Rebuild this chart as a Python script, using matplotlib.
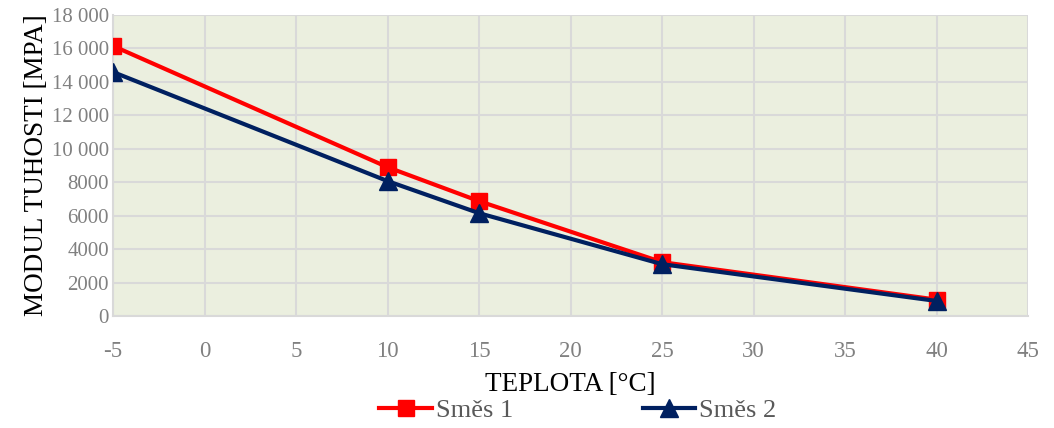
import matplotlib.pyplot as plt
from matplotlib.ticker import FuncFormatter, MultipleLocator

# data
teplota = [-5, 10, 15, 25, 40]
smes1 = [16150, 8900, 6870, 3220, 980]
smes2 = [14590, 8070, 6150, 3100, 900]
series_names = ["Směs 1", "Směs 2"]

plt.rcParams['font.family'] = ['Liberation Serif', 'DejaVu Serif']
plt.rcParams['axes.unicode_minus'] = False

fig = plt.figure(figsize=(10.54, 4.28), dpi=100)
ax = fig.add_axes([113 / 1054, 1 - 316 / 428, (1028 - 113) / 1054, (316 - 15) / 428])
ax.set_facecolor('#EBEFDF')

ax.plot(teplota, smes1, color='#FF0000', lw=3, marker='s', ms=12, label=series_names[0], zorder=3)
ax.plot(teplota, smes2, color='#002060', lw=3, marker='^', ms=12.5, label=series_names[1], zorder=4)

ax.set_xlim(-5, 45)
ax.set_ylim(0, 18000)
ax.xaxis.set_major_locator(MultipleLocator(5))
ax.yaxis.set_major_locator(MultipleLocator(2000))

def fmt(v, pos):
    v = int(round(v))
    if v >= 10000:
        return f"{v:,}".replace(",", " ")
    return str(v)

ax.yaxis.set_major_formatter(FuncFormatter(fmt))
ax.grid(True, color='#D9D9D9', lw=1.5)
ax.set_axisbelow(True)
for s in ['top', 'right']:
    ax.spines[s].set_visible(False)
for s in ['left', 'bottom']:
    ax.spines[s].set_color('#D9D9D9')
    ax.spines[s].set_linewidth(1.5)
ax.tick_params(length=0, labelcolor='#808080')
ax.tick_params(axis='y', labelsize=15, pad=3)
ax.tick_params(axis='x', labelsize=16.5, pad=18)

ax.set_xlabel("TEPLOTA [°C]", fontsize=19.5, color='black', labelpad=7)
ax.set_ylabel("MODUL TUHOSTI [MPA]", fontsize=19.5, color='black', labelpad=2)

leg = fig.legend(loc='center', bbox_to_anchor=(578 / 1054, 1 - 410 / 428), ncol=2,
                 frameon=False, fontsize=19, handlelength=2.0, columnspacing=4.9,
                 handletextpad=0.15)
for t in leg.get_texts():
    t.set_color('#595959')

fig.savefig("out.png", dpi=100)
